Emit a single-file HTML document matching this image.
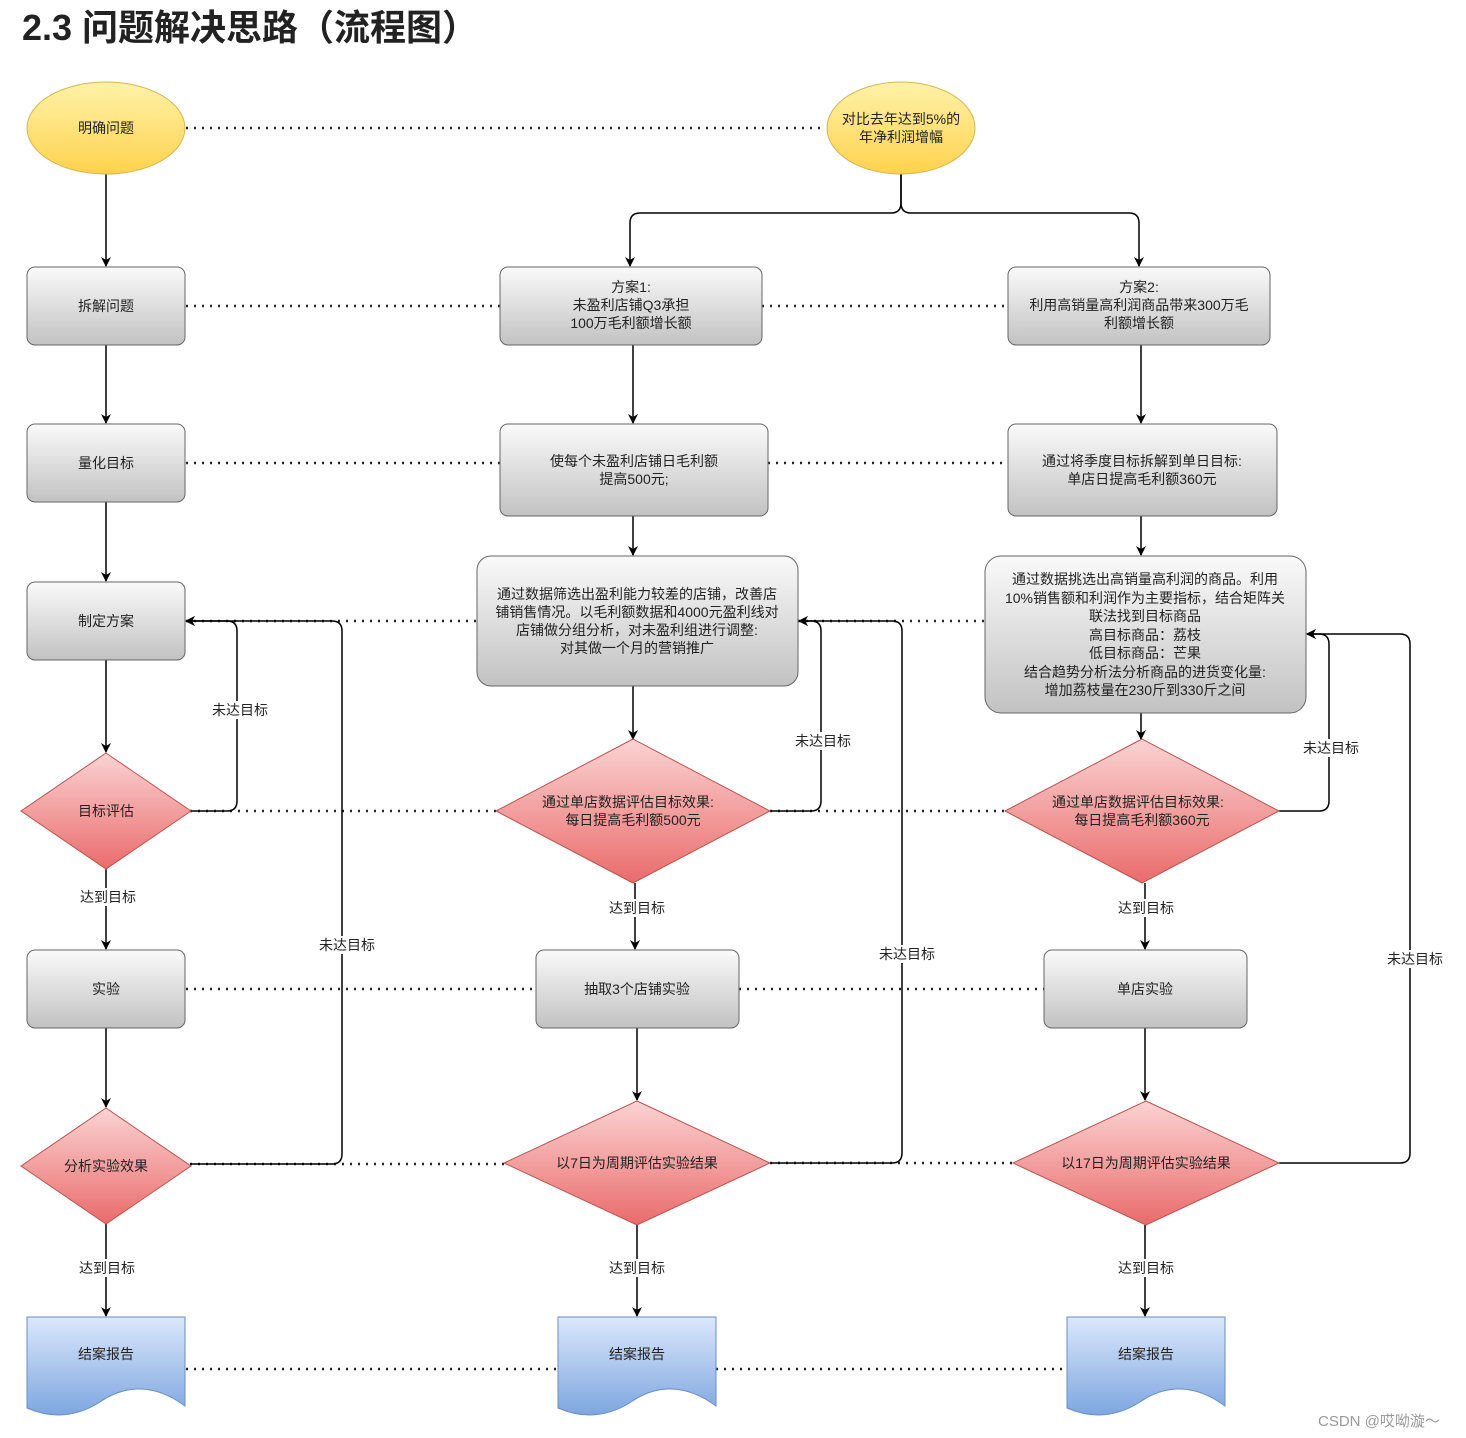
<!DOCTYPE html>
<html><head><meta charset="utf-8"><style>
html,body{margin:0;padding:0;background:#fff;}
svg{display:block;font-family:"Liberation Sans","Noto Sans CJK SC",sans-serif;}
text{font-size:14px;fill:#222;text-anchor:middle;}
</style></head><body>
<svg width="1466" height="1438" viewBox="0 0 1466 1438" xmlns="http://www.w3.org/2000/svg">
<defs>
<linearGradient id="gy" x1="0" y1="0" x2="0" y2="1"><stop offset="0" stop-color="#fff2a8"/><stop offset="1" stop-color="#ffd24d"/></linearGradient>
<linearGradient id="gg" x1="0" y1="0" x2="0" y2="1"><stop offset="0" stop-color="#fafafa"/><stop offset="1" stop-color="#c2c2c2"/></linearGradient>
<linearGradient id="gr" x1="0" y1="0" x2="0" y2="1"><stop offset="0" stop-color="#fbd3d3"/><stop offset="1" stop-color="#ea6b6b"/></linearGradient>
<linearGradient id="gb" x1="0" y1="0" x2="0" y2="1"><stop offset="0" stop-color="#dbe8fb"/><stop offset="1" stop-color="#7ea6e0"/></linearGradient>
<marker id="ar" markerWidth="10" markerHeight="10" refX="9" refY="5" orient="auto" markerUnits="userSpaceOnUse"><path d="M0,0 L10,5 L0,10 L3,5 Z" fill="#000"/></marker>
</defs>
<text x="22" y="40" style="font-size:36px;font-weight:bold;text-anchor:start;fill:#222">2.3 问题解决思路（流程图）</text>

<!-- dotted lines -->
<g stroke="#222" stroke-width="2.5" stroke-dasharray="2,6" fill="none">
<line x1="186" y1="128" x2="826" y2="128"/>
<line x1="186" y1="306" x2="500" y2="306"/><line x1="762" y1="306" x2="1008" y2="306"/>
<line x1="186" y1="463" x2="500" y2="463"/><line x1="768" y1="463" x2="1008" y2="463"/>
<line x1="186" y1="621" x2="477" y2="621"/><line x1="798" y1="621" x2="985" y2="621"/>
<line x1="190" y1="811" x2="496" y2="811"/><line x1="770" y1="811" x2="1005" y2="811"/>
<line x1="186" y1="989" x2="536" y2="989"/><line x1="739" y1="989" x2="1044" y2="989"/>
<line x1="190" y1="1164" x2="504" y2="1164"/><line x1="770" y1="1163" x2="1013" y2="1163"/>
<line x1="186" y1="1369" x2="558" y2="1369"/><line x1="716" y1="1369" x2="1067" y2="1369"/>
</g>

<!-- solid connectors -->
<g stroke="#000" stroke-width="1.5" fill="none" marker-end="url(#ar)">
<line x1="106" y1="174" x2="106" y2="266"/>
<line x1="106" y1="345" x2="106" y2="423"/>
<line x1="106" y1="502" x2="106" y2="581"/>
<line x1="106" y1="660" x2="106" y2="752"/>
<line x1="106" y1="869" x2="106" y2="949"/>
<line x1="106" y1="1028" x2="106" y2="1107"/>
<line x1="106" y1="1224" x2="106" y2="1316"/>
<path d="M901,174 V203 Q901,213 891,213 H640 Q630,213 630,223 V266"/>
<path d="M901,174 V203 Q901,213 911,213 H1129 Q1139,213 1139,223 V266"/>
<line x1="633" y1="345" x2="633" y2="423"/>
<line x1="633" y1="516" x2="633" y2="555"/>
<line x1="633" y1="686" x2="633" y2="739"/>
<line x1="635" y1="883" x2="635" y2="949"/>
<line x1="637" y1="1028" x2="637" y2="1100"/>
<line x1="637" y1="1225" x2="637" y2="1316"/>
<line x1="1141" y1="345" x2="1141" y2="423"/>
<line x1="1141" y1="516" x2="1141" y2="555"/>
<line x1="1141" y1="713" x2="1141" y2="739"/>
<line x1="1145" y1="883" x2="1145" y2="949"/>
<line x1="1145" y1="1028" x2="1145" y2="1100"/>
<line x1="1145" y1="1225" x2="1145" y2="1316"/>
<path d="M190,811 H227 Q237,811 237,801 V631 Q237,621 227,621 H186"/>
<path d="M190,1164 H332 Q342,1164 342,1154 V631 Q342,621 332,621 H186"/>
<path d="M770,811 H811 Q821,811 821,801 V631 Q821,621 811,621 H799"/>
<path d="M770,1163 H892 Q902,1163 902,1153 V631 Q902,621 892,621 H799"/>
<path d="M1279,811 H1319 Q1329,811 1329,801 V644 Q1329,634 1319,634 H1307"/>
<path d="M1279,1163 H1400 Q1410,1163 1410,1153 V644 Q1410,634 1400,634 H1307"/>
</g>

<!-- ellipses -->
<ellipse cx="106" cy="128" rx="79" ry="46" fill="url(#gy)" stroke="#d6b656"/>
<text x="106" y="133">明确问题</text>
<ellipse cx="901" cy="128" rx="74" ry="46" fill="url(#gy)" stroke="#d6b656"/>
<text x="901" y="124">对比去年达到5%的</text><text x="901" y="142">年净利润增幅</text>

<!-- rects -->
<g fill="url(#gg)" stroke="#666" stroke-width="1">
<rect x="27" y="267" width="158" height="78" rx="8"/>
<rect x="27" y="424" width="158" height="78" rx="8"/>
<rect x="27" y="582" width="158" height="78" rx="8"/>
<rect x="27" y="950" width="158" height="78" rx="8"/>
<rect x="500" y="267" width="262" height="78" rx="8"/>
<rect x="500" y="424" width="268" height="92" rx="8"/>
<rect x="477" y="556" width="321" height="130" rx="14"/>
<rect x="536" y="950" width="203" height="78" rx="8"/>
<rect x="1008" y="267" width="262" height="78" rx="8"/>
<rect x="1008" y="424" width="269" height="92" rx="8"/>
<rect x="985" y="556" width="321" height="157" rx="16"/>
<rect x="1044" y="950" width="203" height="78" rx="8"/>
</g>
<text x="106" y="311">拆解问题</text>
<text x="106" y="468">量化目标</text>
<text x="106" y="626">制定方案</text>
<text x="106" y="994">实验</text>
<text x="631" y="292">方案1:</text><text x="631" y="310">未盈利店铺Q3承担</text><text x="631" y="328">100万毛利额增长额</text>
<text x="634" y="466">使每个未盈利店铺日毛利额</text><text x="634" y="484">提高500元;</text>
<text x="637" y="599">通过数据筛选出盈利能力较差的店铺，改善店</text>
<text x="637" y="617">铺销售情况。以毛利额数据和4000元盈利线对</text>
<text x="637" y="635">店铺做分组分析，对未盈利组进行调整:</text>
<text x="637" y="653">对其做一个月的营销推广</text>
<text x="637" y="994">抽取3个店铺实验</text>
<text x="1139" y="292">方案2:</text><text x="1139" y="310">利用高销量高利润商品带来300万毛</text><text x="1139" y="328">利额增长额</text>
<text x="1142" y="466">通过将季度目标拆解到单日目标:</text><text x="1142" y="484">单店日提高毛利额360元</text>
<text x="1145" y="584">通过数据挑选出高销量高利润的商品。利用</text>
<text x="1145" y="603">10%销售额和利润作为主要指标，结合矩阵关</text>
<text x="1145" y="621">联法找到目标商品</text>
<text x="1145" y="640">高目标商品：荔枝</text>
<text x="1145" y="658">低目标商品：芒果</text>
<text x="1145" y="677">结合趋势分析法分析商品的进货变化量:</text>
<text x="1145" y="695">增加荔枝量在230斤到330斤之间</text>
<text x="1145" y="994">单店实验</text>

<!-- diamonds -->
<g fill="url(#gr)" stroke="#b85450" stroke-width="1">
<polygon points="106,753 191,811 106,869 21,811"/>
<polygon points="106,1108 191,1166 106,1224 21,1166"/>
<polygon points="633,739 770,811 633,883 496,811"/>
<polygon points="637,1101 770,1163 637,1225 504,1163"/>
<polygon points="1142,739 1279,811 1142,883 1005,811"/>
<polygon points="1146,1101 1279,1163 1146,1225 1013,1163"/>
</g>
<text x="106" y="816">目标评估</text>
<text x="106" y="1171">分析实验效果</text>
<text x="628" y="807">通过单店数据评估目标效果:</text><text x="633" y="825">每日提高毛利额500元</text>
<text x="637" y="1168">以7日为周期评估实验结果</text>
<text x="1138" y="807">通过单店数据评估目标效果:</text><text x="1142" y="825">每日提高毛利额360元</text>
<text x="1146" y="1168">以17日为周期评估实验结果</text>

<!-- documents -->
<g fill="url(#gb)" stroke="#6c8ebf" stroke-width="1">
<path d="M27,1317 H185 V1406 C150,1380 120,1388 100,1402 C75,1418 50,1418 27,1408 Z"/>
<path d="M558,1317 H716 V1406 C681,1380 651,1388 631,1402 C606,1418 581,1418 558,1408 Z"/>
<path d="M1067,1317 H1225 V1406 C1190,1380 1160,1388 1140,1402 C1115,1418 1090,1418 1067,1408 Z"/>
</g>
<text x="106" y="1359">结案报告</text>
<text x="637" y="1359">结案报告</text>
<text x="1146" y="1359">结案报告</text>

<!-- labels -->
<g style="font-size:13px">
<rect x="208" y="701" width="62" height="18" fill="#fff"/><text x="240" y="715">未达目标</text>
<rect x="316" y="936" width="62" height="18" fill="#fff"/><text x="347" y="950">未达目标</text>
<rect x="792" y="732" width="62" height="18" fill="#fff"/><text x="823" y="746">未达目标</text>
<rect x="876" y="945" width="62" height="18" fill="#fff"/><text x="907" y="959">未达目标</text>
<rect x="1300" y="739" width="62" height="18" fill="#fff"/><text x="1331" y="753">未达目标</text>
<rect x="1384" y="950" width="62" height="18" fill="#fff"/><text x="1415" y="964">未达目标</text>
<rect x="77" y="888" width="62" height="18" fill="#fff"/><text x="108" y="902">达到目标</text>
<rect x="76" y="1259" width="62" height="18" fill="#fff"/><text x="107" y="1273">达到目标</text>
<rect x="606" y="899" width="62" height="18" fill="#fff"/><text x="637" y="913">达到目标</text>
<rect x="606" y="1259" width="62" height="18" fill="#fff"/><text x="637" y="1273">达到目标</text>
<rect x="1115" y="899" width="62" height="18" fill="#fff"/><text x="1146" y="913">达到目标</text>
<rect x="1115" y="1259" width="62" height="18" fill="#fff"/><text x="1146" y="1273">达到目标</text>
</g>
<text x="1318" y="1426" style="text-anchor:start;font-size:15px;fill:#999">CSDN @哎呦漩～</text>
</svg>
</body></html>
